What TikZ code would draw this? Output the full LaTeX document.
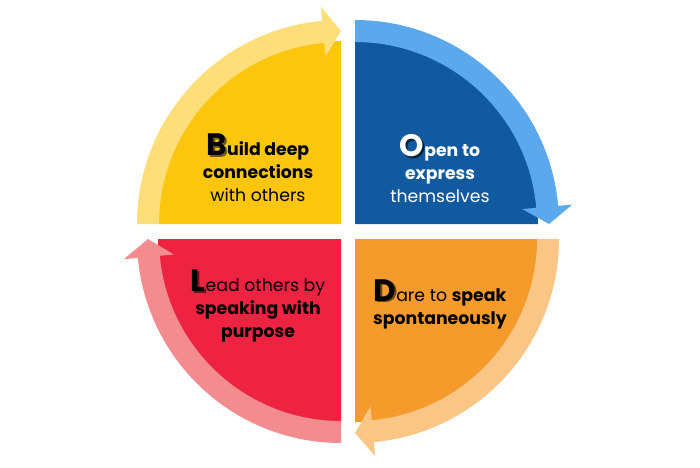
\documentclass[tikz,border=0pt]{standalone}
\usepackage{fontspec}
\setmainfont{Poppins}
\definecolor{ydark}{HTML}{FCC60E}
\definecolor{ylight}{HTML}{FDDE78}
\definecolor{bdark}{HTML}{115A9F}
\definecolor{blight}{HTML}{5BA9EC}
\definecolor{rdark}{HTML}{EE2241}
\definecolor{rlight}{HTML}{F48B8F}
\definecolor{odark}{HTML}{F59B2B}
\definecolor{olight}{HTML}{F9C686}
\newcommand\initial[2]{{\fontsize{31}{31}\selectfont\bfseries\makebox[0pt][l]{\kern1.6pt\raisebox{-1.6pt}{\color{#2}#1}}#1}}
\tikzset{
  label text/.style={align=center, inner sep=0pt, font=\fontsize{17.3}{23}\selectfont},
}
\begin{document}
\begin{tikzpicture}[x=1pt,y=1pt]
\useasboundingbox (0,0) rectangle (700,467);
% top-left (yellow)
\begin{scope}[shift={(341,243)}]
  \fill[ydark] (0,0) -- (180:183pt) arc[start angle=180,end angle=90,radius=183pt] -- cycle;
  \fill[ylight] (180:182pt) arc[start angle=180,end angle=95.3,radius=182pt] -- (95.3:168pt) -- (90:193pt) -- (95.3:218pt) -- (95.3:204pt) arc[start angle=95.3,end angle=180,radius=204pt] -- cycle;
\end{scope}
% top-right (blue)
\begin{scope}[shift={(355,243)}]
  \fill[bdark] (0,0) -- (90:183pt) arc[start angle=90,end angle=0,radius=183pt] -- cycle;
  \fill[blight] (90:182pt) arc[start angle=90,end angle=5.1,radius=182pt] -- (5.1:168pt) -- (0:194pt) -- (5.1:218pt) -- (5.1:204pt) arc[start angle=5.1,end angle=90,radius=204pt] -- cycle;
\end{scope}
% bottom-left (red)
\begin{scope}[shift={(341,228)}]
  \fill[rdark] (0,0) -- (270:183pt) arc[start angle=270,end angle=180,radius=183pt] -- cycle;
  \fill[rlight] (270:182pt) arc[start angle=270,end angle=185.3,radius=182pt] -- (185.3:168pt) -- (180:193pt) -- (185.3:218pt) -- (185.3:204pt) arc[start angle=185.3,end angle=270,radius=204pt] -- cycle;
\end{scope}
% bottom-right (orange)
\begin{scope}[shift={(355,228)}]
  \fill[odark] (0,0) -- (0:183pt) arc[start angle=0,end angle=-90,radius=183pt] -- cycle;
  \fill[olight] (0:182pt) arc[start angle=0,end angle=-84.7,radius=182pt] -- (-84.7:168pt) -- (-90:194pt) -- (-84.7:218pt) -- (-84.7:204pt) arc[start angle=-84.7,end angle=0,radius=204pt] -- cycle;
\end{scope}
% texts
\node[label text] (build) at (258,299) {{\initial{B}{black!55!ydark}\bfseries uild deep}\\{\bfseries connections}\\with others};
\node[label text, text=white] (open) at (440,298) {{\initial{O}{black!65!bdark}\bfseries pen to}\\{\bfseries express}\\themselves};
\node[label text] (lead) at (258,161) {{\initial{L}{black!55!rdark}ead others by}\\{\bfseries speaking with}\\{\bfseries purpose}};
\node[label text] (dare) at (440,163) {{\initial{D}{black!55!odark}are to \bfseries speak}\\{\bfseries spontaneously}};
\end{tikzpicture}
\end{document}
